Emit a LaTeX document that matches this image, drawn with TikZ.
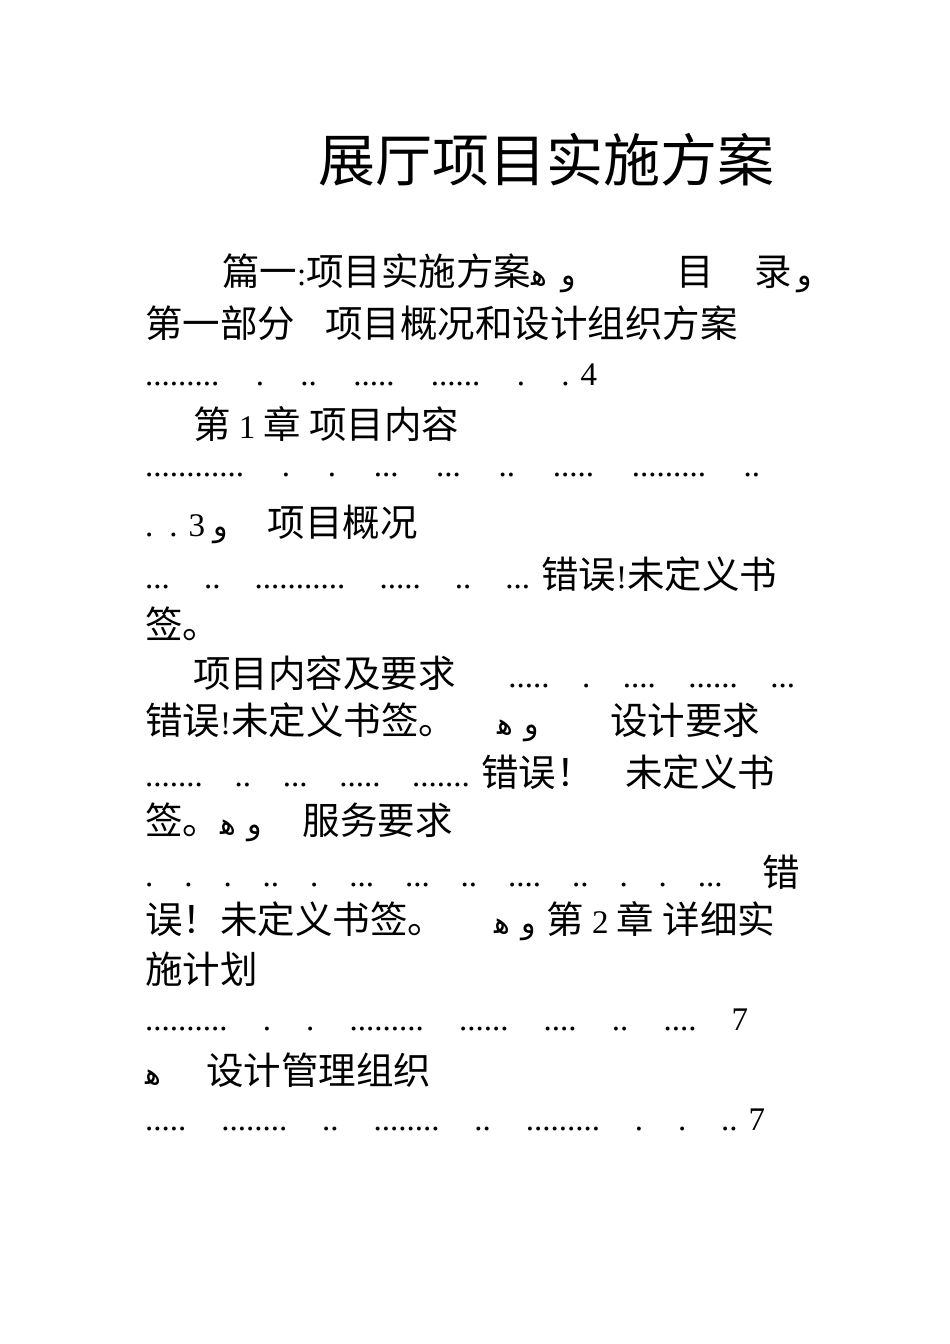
\documentclass[tikz,border=0pt]{standalone}
\usepackage{fontspec}
\setmainfont{Liberation Serif}
\newfontfamily\cjk{Noto Sans CJK SC}
\newfontfamily\arabicfont{DejaVu Sans}
\newcommand{\ar}[1]{{\arabicfont\fontsize{30}{30}\selectfont #1}}
\newcommand{\hh}{\ar{ﻫ}}
\begin{document}
\begin{tikzpicture}[x=1pt,y=-1pt,
  ln/.style={anchor=west,inner sep=0pt,font=\fontsize{33}{33}\selectfont},
  ttl/.style={anchor=west,inner sep=0pt,font=\cjk\fontsize{57}{57}\selectfont}]
\useasboundingbox (0,0) rectangle (950,1344);
\newcommand{\C}[1]{{\cjk\fontsize{37.5}{37.5}\selectfont #1}}
\node[ttl] (t) at (318,160) {展厅项目实施方案};
\node[ln] (l1) at (222,273) {\hbox to 590pt{\C{篇一}:\C{项目实施方案}\hh\hspace{14pt}\ar{و}\hfill\C{目}\hspace{40pt}\C{录}\hspace{6pt}\ar{و}}};
\node[ln] (l2) at (145,323) {\C{第一部分}\hspace{30pt}\C{项目概况和设计组织方案}};
\node[ln] (l3) at (145,375) {\hbox to 452pt{.........\hfill.\hfill..\hfill.....\hfill......\hfill.\hfill. 4}};
\node[ln] (l4) at (193,424) {\C{第} 1 \C{章} \C{项目内容}};
\node[ln] (l5) at (145,475) {\hbox to 615pt{............\hfill.\hfill.\hfill...\hfill...\hfill..\hfill.....\hfill.........\hfill..}};
\node[ln] (l6) at (145,524) {.\hspace{16pt}. 3 \ar{و}\hspace{40pt}\C{项目概况}};
\node[ln] (l7) at (145,574) {\hbox to 632pt{...\hfill..\hfill...........\hfill.....\hfill..\hfill... \C{错误}!\C{未定义书}}};
\node[ln] (l8) at (145,624) {\C{签。}};
\node[ln] (l9) at (193,673) {\hbox to 602pt{\C{项目内容及要求}\hspace{20pt}\hfill.....\hfill.\hfill....\hfill......\hfill...}};
\node[ln] (l10) at (145,722) {\hbox to 615pt{\C{错误}!\C{未定义书签。}\hfill\hh\hspace{12pt}\ar{و}\hfill\hspace{30pt}\C{设计要求}}};
\node[ln] (l11) at (145,772) {\hbox to 630pt{.......\hfill..\hfill...\hfill.....\hfill....... \C{错误！}\hfill\C{未定义书}}};
\node[ln] (l12) at (145,822) {\C{签。}\hh\hspace{12pt}\ar{و}\hspace{40pt}\C{服务要求}};
\node[ln] (l13) at (145,872) {\hbox to 655pt{.\hfill.\hfill.\hfill..\hfill.\hfill...\hfill...\hfill..\hfill....\hfill..\hfill.\hfill.\hfill...\hspace{40pt}\C{错}}};
\node[ln] (l14) at (145,921) {\hbox to 630pt{\C{误！}\C{未定义书签。}\hfill\hh\hspace{12pt}\ar{و}\hspace{10pt}\C{第} 2 \C{章} \C{详细实}}};
\node[ln] (l15) at (145,969) {\C{施计划}};
\node[ln] (l16) at (145,1020) {\hbox to 603pt{..........\hfill.\hfill.\hfill.........\hfill......\hfill....\hfill..\hfill....\hfill 7}};
\node[ln] (l17) at (145,1070) {\hh\hspace{45pt}\C{设计管理组织}};
\node[ln] (l18) at (145,1120) {\hbox to 620pt{.....\hfill........\hfill..\hfill........\hfill..\hfill.........\hfill.\hfill.\hfill.. 7}};
\end{tikzpicture}
\end{document}
